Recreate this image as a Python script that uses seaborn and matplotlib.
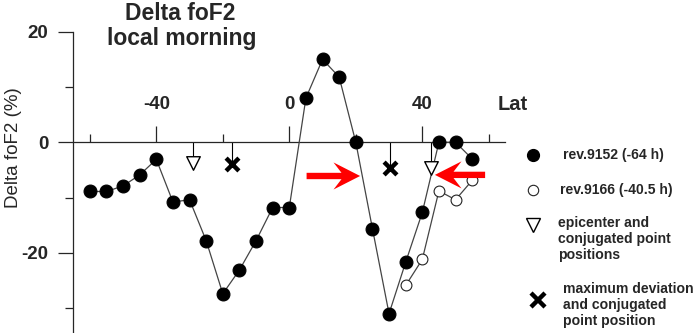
import pandas as pd
import seaborn as sns
import matplotlib.pyplot as plt
from matplotlib.patches import FancyArrow

"""Data read off the picture"""
lat_9152 = [-60, -55, -50, -45, -40, -35, -30, -25, -20, -15, -10, -5, 0,
             5, 10, 15, 20, 25, 30, 35, 40, 45, 50, 55]
dfof2_9152 = [-8.9, -8.9, -7.9, -5.9, -3.1, -10.8, -10.4, -17.8, -27.4, -23.1,
              -17.8, -11.8, -11.8, 8.0, 15.0, 11.8, 0.0, -15.6, -31.0, -21.7,
              -12.7, 0.0, 0.0, -3.0]
lat_9166 = [35, 40, 45, 50, 55]
dfof2_9166 = [-25.9, -21.2, -8.8, -10.4, -6.9]
epic_lat = [-29, 42.5]
epic_val = [-3.8, -4.6]
maxdev_lat = [-17.3, 30.3]
maxdev_val = [-4.0, -4.7]
x_major = [-40, 0, 40]
x_minor = [-60, -20, 20, 60]
y_major = [-20, 0, 20]
y_minor = [-30, -10, 10]

df1 = pd.DataFrame({'lat': lat_9152, 'dfof2': dfof2_9152})
df2 = pd.DataFrame({'lat': lat_9166, 'dfof2': dfof2_9166})
df_epic = pd.DataFrame({'lat': epic_lat, 'dfof2': epic_val})
df_max = pd.DataFrame({'lat': maxdev_lat, 'dfof2': maxdev_val})

sns.set_style('ticks')
plt.rcParams['font.family'] = ['Liberation Sans', 'DejaVu Sans']
plt.rcParams['axes.unicode_minus'] = False

W, H = 699, 333
fig = plt.figure(figsize=(W / 100, H / 100), dpi=100)
ax = fig.add_axes([73.2 / W, 0, 432.2 / W, 301.3 / H])

"""Vertical marker lines from the axis"""
ax.vlines(epic_lat, epic_val, 0, color='black', lw=0.8, zorder=2)
ax.vlines(maxdev_lat, maxdev_val, 0, color='black', lw=0.8, zorder=2)

"""The two passes"""
sns.lineplot(ax=ax, x='lat', y='dfof2', data=df1, color='#444444', lw=0.9,
             marker='o', markersize=9.3, markerfacecolor='black',
             markeredgecolor='black', zorder=4)
sns.lineplot(ax=ax, x='lat', y='dfof2', data=df2, color='#444444', lw=0.9,
             marker='o', markersize=7.8, markerfacecolor='white',
             markeredgecolor='#222222', markeredgewidth=0.8, zorder=3)

"""Epicenter and max deviation"""
sns.scatterplot(ax=ax, x='lat', y='dfof2', data=df_epic, marker='v', s=95,
                facecolor='white', edgecolor='black', linewidth=1.0, zorder=5)
sns.scatterplot(ax=ax, x='lat', y='dfof2', data=df_max, marker='x', s=85,
                color='black', linewidth=3.2, zorder=5)

"""Red arrows"""
for x0, dx, y0 in [(5.2, 16.1, -6.1), (58.9, -15.1, -5.9)]:
    ax.add_patch(FancyArrow(x0, y0, dx, 0, width=1.15, head_width=4.9,
                            head_length=8.0, overhang=0.3,
                            length_includes_head=True, color='#ff0000',
                            lw=0, zorder=6))

ax.set_xlim(-65, 65)
ax.set_ylim(-34.5, 20)
ax.set_xlabel('')
ax.set_ylabel('')
ax.spines['top'].set_visible(False)
ax.spines['right'].set_visible(False)
ax.spines['bottom'].set_position(('data', 0))
for s in ['left', 'bottom']:
    ax.spines[s].set_linewidth(0.9)
ax.patch.set_visible(False)

ax.set_xticks(x_major)
ax.set_xticks(x_minor, minor=True)
ax.set_yticks(y_major)
ax.set_yticks(y_minor, minor=True)
ax.tick_params(axis='x', which='major', direction='in', length=11.5,
               width=0.9, pad=-33, labelsize=13.5)
ax.tick_params(axis='x', which='minor', direction='in', length=5.8, width=0.9)
ax.tick_params(axis='y', which='major', direction='out', length=11, width=0.9,
               pad=7, labelsize=13.5)
ax.tick_params(axis='y', which='minor', direction='out', length=5.5, width=0.9)
for lbl in ax.get_xticklabels() + ax.get_yticklabels():
    lbl.set_fontweight('bold')

"""Texts"""
fig.text(180 / W, 1 - 20 / H, 'Delta foF2', ha='center', va='baseline',
         fontsize=16.5, fontweight='bold')
fig.text(182 / W, 1 - 45 / H, 'local morning', ha='center', va='baseline',
         fontsize=16.5, fontweight='bold')
fig.text(14 / W, 1 - 148 / H, 'Delta foF2 (%)', rotation=90, ha='center',
         va='center', fontsize=13.5)
fig.text(513 / W, 1 - 105 / H, 'Lat', ha='center', va='center',
         fontsize=14.5, fontweight='bold')

"""Legend drawn in pixel space"""
lax = fig.add_axes([0, 0, 1, 1])
lax.set_xlim(0, W)
lax.set_ylim(H, 0)
lax.axis('off')
lax.plot([533], [155], 'o', ms=8.5, color='black')
lax.plot([533], [190], 'o', ms=7.5, mfc='white', mec='#222222', mew=0.8)
lax.plot([533], [225], 'v', ms=10, mfc='white', mec='black', mew=1.0)
lax.plot([538], [300], 'x', ms=9.5, color='black', mew=3.2)
leg_kw = dict(fontsize=10.1, fontweight='bold', ha='left', va='center',
              linespacing=1.15)
lax.text(563, 155, 'rev.9152 (-64 h)', **leg_kw)
lax.text(560, 190, 'rev.9166 (-40.5 h)', **leg_kw)
lax.text(558, 239, 'epicenter and\nconjugated point\npositions', **leg_kw)
lax.text(563, 305, 'maximum deviation\nand conjugated\npoint position', **leg_kw)

fig.savefig('out.png', dpi=100)
